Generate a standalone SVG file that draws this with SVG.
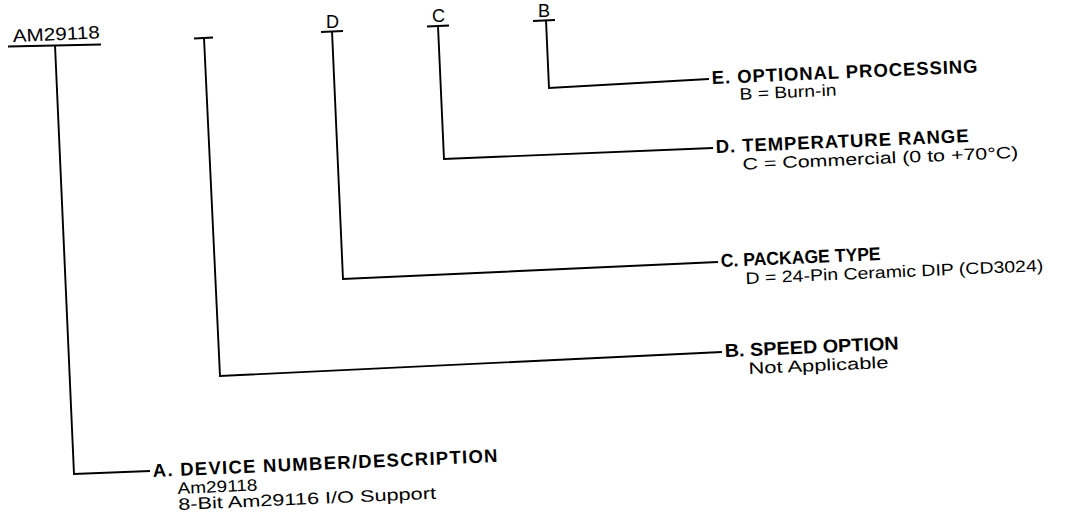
<svg xmlns="http://www.w3.org/2000/svg" width="1068" height="525" viewBox="0 0 1068 525">
<style>
.h{font-family:"Liberation Sans",Arial,sans-serif;font-weight:bold;font-size:18.5px;fill:#000}
.b{font-family:"Liberation Sans",Arial,sans-serif;font-size:16.5px;fill:#000}
.c{font-family:"Liberation Sans",Arial,sans-serif;font-size:18px;fill:#000}
.ln{fill:none;stroke:#000;stroke-width:1.9;stroke-linejoin:miter}
</style>
<rect width="1068" height="525" fill="#fff"/>
<g id="code-device">
<text class="c" x="13" y="42" textLength="87" lengthAdjust="spacingAndGlyphs" transform="rotate(-2.5 13 42)">AM29118</text>
<line class="ln" x1="8" y1="46.5" x2="101" y2="44.5"/>
</g>
<g id="code-speed">
<line class="ln" x1="194" y1="38.5" x2="213" y2="37.5"/>
</g>
<g id="code-package">
<text class="c" x="326" y="28">D</text>
<line class="ln" x1="321" y1="32" x2="343" y2="31"/>
</g>
<g id="code-temp">
<text class="c" x="432" y="22">C</text>
<line class="ln" x1="427" y1="26.5" x2="449" y2="25.5"/>
</g>
<g id="code-proc">
<text class="c" x="538" y="17">B</text>
<line class="ln" x1="533" y1="21" x2="555" y2="20"/>
</g>
<g id="connectors">
<polyline class="ln" points="546,20 549,88 709,79"/>
<polyline class="ln" points="438,26 444,159 713,148"/>
<polyline class="ln" points="332,31 343,279 718,262"/>
<polyline class="ln" points="204,38 220,376 722,352"/>
<polyline class="ln" points="55,45 74,474 150,471"/>
</g>
<g id="desc-e" transform="rotate(-2.5 712 84)">
<text class="h" x="712" y="84" textLength="266">E. OPTIONAL PROCESSING</text>
<text class="b" x="739" y="101" textLength="97" lengthAdjust="spacingAndGlyphs">B = Burn-in</text>
</g>
<g id="desc-d" transform="rotate(-2.5 716 153)">
<text class="h" x="716" y="153" textLength="253">D. TEMPERATURE RANGE</text>
<text class="b" x="742" y="171" textLength="276" lengthAdjust="spacingAndGlyphs">C = Commercial (0 to +70°C)</text>
</g>
<g id="desc-c" transform="rotate(-2.5 721 267)">
<text class="h" x="721" y="267" textLength="160" lengthAdjust="spacingAndGlyphs">C. PACKAGE TYPE</text>
<text class="b" x="745" y="285" textLength="298" lengthAdjust="spacingAndGlyphs">D = 24-Pin Ceramic DIP (CD3024)</text>
</g>
<g id="desc-b" transform="rotate(-2.5 725 357)">
<text class="h" x="725" y="357" textLength="174" lengthAdjust="spacingAndGlyphs">B. SPEED OPTION</text>
<text class="b" x="748" y="375" textLength="140" lengthAdjust="spacingAndGlyphs">Not Applicable</text>
</g>
<g id="desc-a" transform="rotate(-2.5 153 477)">
<text class="h" x="153" y="477" textLength="345">A. DEVICE NUMBER/DESCRIPTION</text>
<text class="b" x="177" y="495" textLength="80" lengthAdjust="spacingAndGlyphs">Am29118</text>
<text class="b" x="177" y="511" textLength="258" lengthAdjust="spacingAndGlyphs">8-Bit Am29116 I/O Support</text>
</g>
</svg>
